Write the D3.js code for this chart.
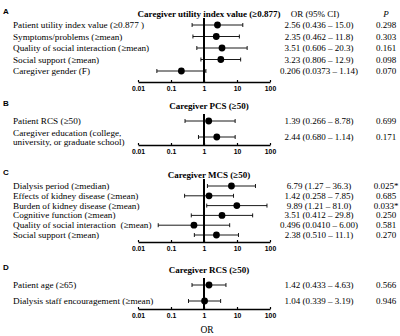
<!DOCTYPE html>
<html>
<head>
<meta charset="utf-8">
<script src="https://cdn.jsdelivr.net/npm/d3@7"></script>
<style>
  body { margin: 0; background: #fff; }
  svg { display: block; }
</style>
</head>
<body>
<div id="chart"></div>
<script>
// ---- data ----
const panelLetters = ["A", "B", "C", "D"];
const panelTitles = [
  "Caregiver utility index value (\u22650.877)",
  "Caregiver PCS (\u226550)",
  "Caregiver MCS (\u226550)",
  "Caregiver RCS (\u226550)"
];
const tickValues = [0.01, 0.1, 1, 10, 100];
const tickLabels = ["0.01", "0.1", "1", "10", "100"];

const labelsA = [
  "Patient utility index value (\u22650.877 )",
  "Symptoms/problems (\u2265mean)",
  "Quality of social interaction (\u2265mean)",
  "Social support (\u2265mean)",
  "Caregiver gender (F)"
];
const orA = [2.56, 2.35, 3.51, 3.23, 0.206];
const loA = [0.436, 0.462, 0.606, 0.806, 0.0373];
const hiA = [15.0, 11.8, 20.3, 12.9, 1.14];
const ciA = ["2.56 (0.436 \u2013 15.0)", "2.35 (0.462 \u2013 11.8)", "3.51 (0.606 \u2013 20.3)",
             "3.23 (0.806 \u2013 12.9)", "0.206 (0.0373 \u2013 1.14)"];
const pA = ["0.298", "0.303", "0.161", "0.098", "0.070"];

const labelsB = [
  "Patient RCS (\u226550)",
  "Caregiver education (college,\nuniversity, or graduate school)"
];
const orB = [1.39, 2.44];
const loB = [0.266, 0.680];
const hiB = [8.78, 8.8];
const ciB = ["1.39 (0.266 \u2013 8.78)", "2.44 (0.680 \u2013 1.14)"];
const pB = ["0.699", "0.171"];

const labelsC = [
  "Dialysis period (\u2265median)",
  "Effects of kidney disease (\u2265mean)",
  "Burden of kidney disease (\u2265mean)",
  "Cognitive function (\u2265mean)",
  "Quality of social interaction  (\u2265mean)",
  "Social support (\u2265mean)"
];
const orC = [6.79, 1.42, 9.89, 3.51, 0.496, 2.38];
const loC = [1.27, 0.258, 1.21, 0.412, 0.0410, 0.510];
const hiC = [36.3, 7.85, 81.0, 29.8, 6.00, 11.1];
const ciC = ["6.79 (1.27 \u2013 36.3)", "1.42 (0.258 \u2013 7.85)", "9.89 (1.21 \u2013 81.0)",
             "3.51 (0.412 \u2013 29.8)", "0.496 (0.0410 \u2013 6.00)", "2.38 (0.510 \u2013 11.1)"];
const pC = ["0.025*", "0.685", "0.033*", "0.250", "0.581", "0.270"];

const labelsD = [
  "Patient age (\u226565)",
  "Dialysis staff encouragement (\u2265mean)"
];
const orD = [1.42, 1.04];
const loD = [0.433, 0.339];
const hiD = [4.63, 3.19];
const ciD = ["1.42 (0.433 \u2013 4.63)", "1.04 (0.339 \u2013 3.19)"];
const pD = ["0.566", "0.946"];

// ---- layout ----
const width = 400, height = 336;
const serif = "'Liberation Serif', 'Times New Roman', serif";
const sans = "'Liberation Sans', Arial, sans-serif";

// vertical layout per panel: title y, first row y, last row y, axis y
const layout = [
  { titleY: 14, top: 25, bottom: 71, axisY: 82 },
  { titleY: 106, top: 121, bottom: 137, axisY: 145 },
  { titleY: 175, top: 186, bottom: 235, axisY: 242 },
  { titleY: 270, top: 285, bottom: 301, axisY: 309 }
];

const panels = [
  { labels: labelsA, or: orA, lo: loA, hi: hiA, ci: ciA, p: pA },
  { labels: labelsB, or: orB, lo: loB, hi: hiB, ci: ciB, p: pB },
  { labels: labelsC, or: orC, lo: loC, hi: hiC, ci: ciC, p: pC },
  { labels: labelsD, or: orD, lo: loD, hi: hiD, ci: ciD, p: pD }
];

const x = d3.scaleLog().domain([0.01, 100]).range([138, 270]);
const ciX = 319, pX = 386, labelX = 13;

const svg = d3.select("#chart").append("svg")
  .attr("width", width)
  .attr("height", height);

panels.forEach(function(pn, k) {
  const L = layout[k];
  const g = svg.append("g");
  const idx = d3.range(pn.labels.length);
  const y = d3.scalePoint().domain(idx).range([L.top, L.bottom]);

  // panel letter
  g.append("text")
    .attr("x", 3).attr("y", L.titleY)
    .style("font-family", sans).style("font-weight", "bold").style("font-size", "8px")
    .text(panelLetters[k]);

  // title
  g.append("text")
    .attr("x", 209).attr("y", L.titleY + 3)
    .attr("text-anchor", "middle")
    .style("font-family", serif).style("font-weight", "bold").style("font-size", "9px")
    .text(panelTitles[k]);

  if (k === 0) {
    g.append("text")
      .attr("x", ciX - 4).attr("y", L.titleY + 3)
      .attr("text-anchor", "middle")
      .style("font-family", serif).style("font-size", "9px")
      .text("OR (95% CI)");
    g.append("text")
      .attr("x", pX).attr("y", L.titleY + 3)
      .attr("text-anchor", "middle")
      .style("font-family", serif).style("font-style", "italic").style("font-size", "9px")
      .text("P");
  }

  // row labels (may be two lines)
  idx.forEach(function(i) {
    const lines = pn.labels[i].split("\n");
    const t = g.append("text")
      .attr("x", labelX)
      .attr("y", y(i) - (lines.length - 1) * 4.5)
      .attr("dominant-baseline", "central")
      .style("font-family", serif).style("font-size", "9.2px")
      .style("white-space", "pre");
    lines.forEach(function(s, j) {
      t.append("tspan").attr("x", labelX).attr("dy", j === 0 ? 0 : 9).text(s);
    });
  });

  // reference line at OR = 1
  g.append("line")
    .attr("x1", x(1)).attr("x2", x(1))
    .attr("y1", L.top - 7).attr("y2", L.axisY)
    .attr("stroke", "#000").attr("stroke-width", 2);

  // whiskers
  const rows = g.selectAll("g.row").data(idx).enter().append("g").attr("class", "row");
  rows.append("line")
    .attr("x1", i => x(pn.lo[i])).attr("x2", i => x(pn.hi[i]))
    .attr("y1", i => y(i)).attr("y2", i => y(i))
    .attr("stroke", "#000").attr("stroke-width", 0.9);
  rows.append("line")
    .attr("x1", i => x(pn.lo[i])).attr("x2", i => x(pn.lo[i]))
    .attr("y1", i => y(i) - 2).attr("y2", i => y(i) + 2)
    .attr("stroke", "#000").attr("stroke-width", 0.9);
  rows.append("line")
    .attr("x1", i => x(pn.hi[i])).attr("x2", i => x(pn.hi[i]))
    .attr("y1", i => y(i) - 2).attr("y2", i => y(i) + 2)
    .attr("stroke", "#000").attr("stroke-width", 0.9);
  rows.append("circle")
    .attr("cx", i => x(pn.or[i])).attr("cy", i => y(i))
    .attr("r", 3.4).attr("fill", "#000");

  // CI and P columns
  rows.append("text")
    .attr("x", ciX).attr("y", i => y(i))
    .attr("text-anchor", "middle").attr("dominant-baseline", "central")
    .style("font-family", serif).style("font-size", "9px")
    .text(i => pn.ci[i]);
  rows.append("text")
    .attr("x", pX).attr("y", i => y(i))
    .attr("text-anchor", "middle").attr("dominant-baseline", "central")
    .style("font-family", serif).style("font-size", "9px")
    .text(i => pn.p[i]);

  // x axis
  const axis = d3.axisBottom(x)
    .tickValues(tickValues)
    .tickFormat((d, i) => tickLabels[i])
    .tickSizeInner(-2).tickSizeOuter(0).tickPadding(4);
  const ax = g.append("g")
    .attr("transform", `translate(0,${L.axisY})`)
    .call(axis);
  ax.select(".domain").attr("stroke-width", 1.5);
  ax.selectAll(".tick line").attr("stroke-width", 1.2);
  ax.selectAll(".tick text")
    .style("font-family", sans).style("font-weight", "bold").style("font-size", "6.8px");
});

svg.append("text")
  .attr("x", 207).attr("y", 333)
  .attr("text-anchor", "middle")
  .style("font-family", serif).style("font-size", "9.5px")
  .text("OR");
</script>
</body>
</html>
